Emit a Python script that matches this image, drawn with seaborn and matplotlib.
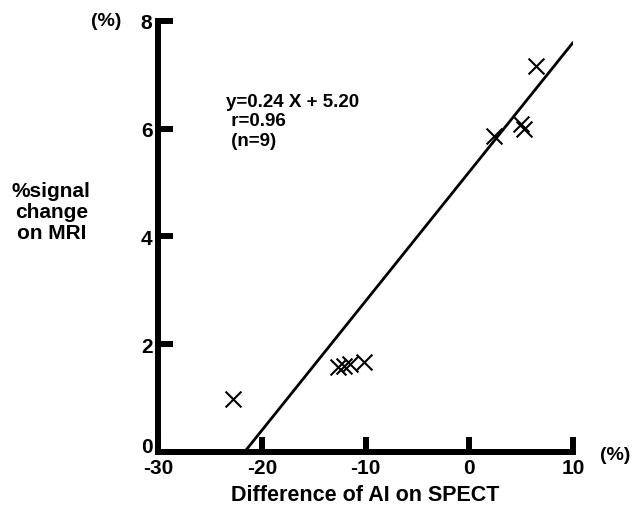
import numpy as np
import pandas as pd
import seaborn as sns
import matplotlib.pyplot as plt
import matplotlib.transforms as mtransforms

# values
ai_diff = [-22.8, -12.7, -12.1, -11.5, -10.1, 2.4, 4.95, 5.3, 6.4]
signal_change = [0.98, 1.57, 1.60, 1.64, 1.67, 5.86, 6.09, 5.99, 7.16]
slope = 0.24
intercept = 5.20
x_ticks = [-30, -20, -10, 0, 10]
y_ticks = [0, 2, 4, 6, 8]

sns.set_style("white")
plt.rcParams['font.family'] = ['Liberation Sans', 'DejaVu Sans']
plt.rcParams['font.weight'] = 'bold'
plt.rcParams['axes.unicode_minus'] = False
plt.rcParams['text.color'] = 'black'

df = pd.DataFrame({'AI': ai_diff, 'MRI': signal_change})

# regression line from y=0 up to right edge
x0 = -intercept / slope
line_df = pd.DataFrame({'AI': [x0, x_ticks[-1]]})
line_df['MRI'] = slope * line_df['AI'] + intercept

fig = plt.figure(figsize=(6.41, 5.06), dpi=100)
ax = fig.add_axes([0.2465, 0.1047, 0.6475, 0.852])

sns.lineplot(data=line_df, x='AI', y='MRI', color='black', linewidth=2, ax=ax)
sns.scatterplot(data=df, x='AI', y='MRI', marker='x', s=130, color='black',
                linewidth=1.5, ax=ax)

ax.set_xlim(-30, 10)
ax.set_ylim(0, 8)
ax.set_xticks(x_ticks)
ax.set_yticks(y_ticks)
sns.despine(ax=ax)
for s in ['left', 'bottom']:
    ax.spines[s].set_linewidth(4.3)
    ax.spines[s].set_color('black')
    ax.spines[s].set_capstyle('projecting')
ax.tick_params(bottom=True, left=True, direction='in', length=11, width=4.3,
               labelsize=15, pad=4, color='black', labelcolor='black')
for lbl in ax.get_xticklabels() + ax.get_yticklabels():
    lbl.set_fontweight('bold')
for t in ax.xaxis.get_major_ticks() + ax.yaxis.get_major_ticks():
    t.tick1line.set_clip_on(False)

# lift the y "0" label so it clears the x "-30"
zero_lbl = ax.get_yticklabels()[0]
zero_lbl.set_transform(zero_lbl.get_transform() +
                       mtransforms.ScaledTranslation(0, 8 / 100, fig.dpi_scale_trans))

ax.set_xlabel('Difference of AI on SPECT', fontsize=15.5, fontweight='bold',
              labelpad=5, color='black')
ax.set_ylabel('')
fig.text(0.08, 0.58, '%signal\nchange\non MRI', fontsize=15, fontweight='bold',
         ha='center', va='center', multialignment='center', linespacing=1.15)
fig.text(0.165, 0.957, '(%)', fontsize=14, fontweight='bold', ha='center', va='center')
fig.text(0.96, 0.1, '(%)', fontsize=14, fontweight='bold', ha='center', va='center')

ax.text(0.165, 0.768, 'y=0.24 X + 5.20\n r=0.96\n (n=9)', transform=ax.transAxes,
        fontsize=13.5, fontweight='bold', va='center', ha='left', linespacing=1.2)

fig.savefig('out.png', dpi=100)
